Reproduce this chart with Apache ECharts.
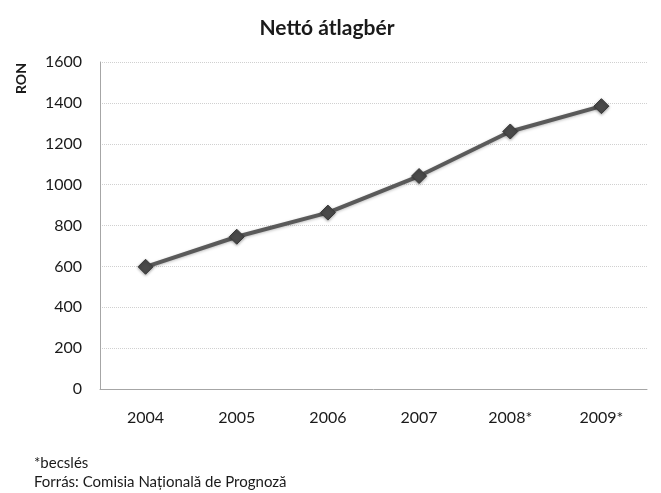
<!DOCTYPE html>
<html><head><meta charset="utf-8">
<script src="https://cdn.jsdelivr.net/npm/echarts@6/dist/echarts.min.js"></script>
<style>html,body{margin:0;padding:0;background:#fff}#c{width:661px;height:493px}</style>
</head><body><div id="c"></div>
<script>
const categories = ['2004','2005','2006','2007','2008*','2009*'];
const values = [598, 745, 863, 1042, 1260, 1384];
const yTicks = [0, 200, 400, 600, 800, 1000, 1200, 1400, 1600];
const titleText = 'Nettó átlagbér';
const yName = 'RON';
const notes = ['*becslés', 'Forrás: Comisia Națională de Prognoză'];

const font = 'Lato, "Open Sans", sans-serif';
const chart = echarts.init(document.getElementById('c'), null, {renderer:'canvas'});
chart.setOption({
  animation: false,
  backgroundColor: '#fff',
  title: {
    text: titleText, left: 322, top: 13, textAlign: 'center',
    textStyle: {fontFamily: font, fontSize: 21, fontWeight: 'bold', color: '#1a1a1a'}
  },
  grid: {left: 100, right: 14, top: 62, bottom: 104},
  xAxis: {
    type: 'category', data: categories, boundaryGap: true,
    axisLine: {lineStyle: {color: '#a6a6a6', width: 1}},
    axisTick: {show: false},
    axisLabel: {fontFamily: font, fontSize: 16, color: '#1a1a1a', margin: 21}
  },
  yAxis: {
    type: 'value', min: yTicks[0], max: yTicks[yTicks.length-1], interval: 200,
    axisLine: {show: true, lineStyle: {color: '#a6a6a6', width: 1}},
    axisTick: {show: false},
    axisLabel: {fontFamily: font, fontSize: 16, color: '#1a1a1a', margin: 18,
      formatter: v => String(v)},
    splitLine: {lineStyle: {color: '#d0d0d0', type: 'dotted', width: 1}}
  },
  graphic: [
    {type: 'text', x: 14, y: 94, rotation: Math.PI/2,
     style: {text: yName, font: 'bold 14px ' + font, fill: '#1a1a1a'}},
    {type: 'text', left: 34, top: 456, style: {text: notes[0], font: '15px ' + font, fill: '#1a1a1a'}},
    {type: 'text', left: 34, top: 475, style: {text: notes[1], font: '15px ' + font, fill: '#1a1a1a'}}
  ],
  series: [{
    type: 'line', data: values,
    symbol: 'diamond', symbolSize: 15,
    lineStyle: {color: '#5a5a5a', width: 4, shadowColor: 'rgba(0,0,0,0.25)', shadowBlur: 3, shadowOffsetY: 1},
    itemStyle: {color: '#4a4a4a', borderColor: '#3a3a3a', borderWidth: 1, shadowColor: 'rgba(0,0,0,0.35)', shadowBlur: 3, shadowOffsetY: 1}
  }]
});
</script></body></html>
